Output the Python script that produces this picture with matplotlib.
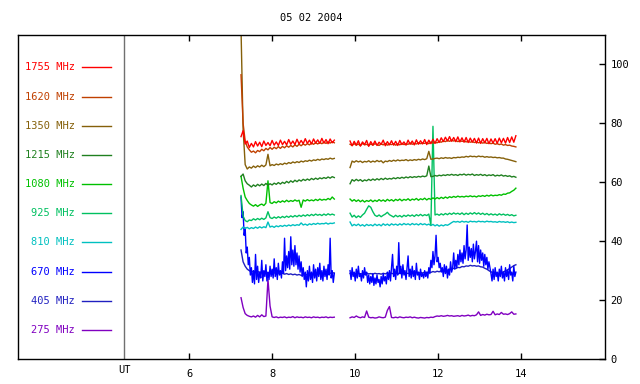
import matplotlib
matplotlib.use("Agg")
import matplotlib.pyplot as plt
import matplotlib.transforms as mtransforms
import numpy as np

# time grids (UT hours) for the two recorded segments
t_seg1 = 7.25 + 0.05 * np.arange(46)
t_seg2 = 9.88 + 0.05 * np.arange(81)
# finer grids for the noisy 670 MHz channel
t_fine1 = 7.25 + 0.025 * np.arange(91)
t_fine2 = 9.88 + 0.025 * np.arange(161)

freqs = ["1755 MHz", "1620 MHz", "1350 MHz", "1215 MHz", "1080 MHz",
         "925 MHz", "810 MHz", "670 MHz", "405 MHz", "275 MHz"]
colors = ["#ff0000", "#c04000", "#85600a", "#208020", "#00c000",
          "#00c060", "#00c0c0", "#0000ff", "#2020c0", "#8000c0"]

f1755_a = [75.5, 77.5, 73.0, 74.0, 71.8, 73.2, 72.0, 73.8, 72.3, 73.6,
           72.1, 74.0, 72.5, 73.5, 72.4, 74.2, 72.6, 73.7, 72.5, 74.3,
           72.8, 73.9, 72.7, 74.5, 72.9, 74.0, 72.8, 74.6, 73.0, 74.2,
           73.1, 74.8, 73.2, 74.3, 73.0, 74.7, 73.3, 74.4, 73.2, 74.9,
           73.3, 74.5, 73.1, 74.7, 73.4, 74.3]
f1755_b = [74.0, 72.4, 73.9, 72.6, 74.1, 72.3, 73.7, 72.8, 74.2, 72.2,
           73.8, 72.6, 74.0, 72.5, 73.6, 72.9, 74.3, 72.4, 73.8, 72.7,
           74.1, 72.6, 73.9, 72.5, 74.2, 72.8, 73.7, 72.6, 74.3, 72.9,
           74.0, 72.7, 74.4, 72.9, 74.1, 73.0, 74.5, 72.8, 74.3, 73.1,
           74.6, 73.2, 74.8, 73.5, 75.1, 73.8, 75.3, 74.0, 75.5, 73.9,
           75.2, 73.8, 75.4, 73.7, 75.1, 73.6, 75.2, 73.5, 75.0, 73.6,
           74.9, 73.3, 75.0, 73.2, 74.8, 73.4, 74.9, 73.1, 74.7, 73.3,
           74.8, 73.2, 75.0, 73.4, 74.9, 73.3, 75.2, 73.5, 75.4, 73.6,
           75.8]

f1620_a = [96.5, 80.0, 74.0, 72.0, 71.0, 70.2, 70.6, 70.0, 70.8, 70.4,
           71.2, 70.7, 71.5, 71.0, 71.8, 71.2, 71.9, 71.4, 72.1, 71.5,
           72.2, 71.7, 72.4, 71.9, 72.5, 72.0, 72.7, 72.2, 72.9, 72.4,
           73.0, 72.6, 73.1, 72.7, 73.3, 72.9, 73.4, 73.0, 73.5, 73.1,
           73.6, 73.2, 73.7, 73.3, 73.8, 73.4]
f1620_b = [72.9, 72.5, 73.1, 72.6, 73.0, 72.4, 73.2, 72.7, 72.9, 72.5,
           73.0, 72.6, 73.1, 72.8, 72.5, 73.0, 72.7, 73.2, 72.6, 72.9,
           72.8, 73.1, 72.6, 73.0, 72.7, 73.2, 72.8, 73.0, 72.9, 73.3,
           72.9, 73.2, 73.0, 73.4, 73.1, 73.3, 73.2, 73.5, 73.1, 73.6,
           73.3, 73.5, 73.4, 73.8, 73.6, 74.0, 73.8, 74.2, 73.9, 74.3,
           74.0, 74.2, 73.8, 74.1, 73.9, 74.0, 73.7, 73.9, 73.6, 73.8,
           73.5, 73.7, 73.4, 73.6, 73.3, 73.5, 73.2, 73.4, 73.1, 73.3,
           72.9, 73.1, 72.8, 73.0, 72.6, 72.8, 72.5, 72.6, 72.3, 72.2,
           72.0]

f1350_a = [112.0, 78.0, 66.0, 64.5, 65.2, 64.8, 65.5, 65.0, 65.6, 65.2,
           65.8, 65.3, 65.9, 69.5, 65.6, 66.0, 65.7, 66.2, 65.9, 66.3,
           66.0, 66.5, 66.2, 66.7, 66.4, 66.9, 66.6, 67.0, 66.7, 67.2,
           66.9, 67.3, 67.1, 67.5, 67.2, 67.6, 67.4, 67.8, 67.5, 67.9,
           67.7, 68.0, 67.8, 68.2, 67.9, 68.1]
f1350_b = [65.0, 67.2, 66.8, 67.3, 66.9, 67.2, 66.7, 67.1, 66.9, 67.3,
           66.8, 67.2, 66.9, 67.4, 67.0, 67.3, 66.6, 67.2, 67.0, 67.4,
           67.1, 67.5, 67.2, 67.6, 67.3, 67.5, 67.4, 67.7, 67.3, 67.6,
           67.4, 67.7, 67.5, 67.8, 67.6, 67.9, 67.7, 68.0, 70.5, 67.8,
           67.9, 68.1, 68.2, 68.0, 68.3, 68.1, 68.4, 68.2, 68.3, 68.1,
           68.4, 68.3, 68.5, 68.4, 68.6, 68.5, 68.8, 68.6, 68.9, 68.7,
           68.8, 68.6, 68.9, 68.7, 68.8, 68.5, 68.7, 68.5, 68.6, 68.4,
           68.5, 68.3, 68.4, 68.2, 68.2, 67.9, 67.8, 67.6, 67.4, 67.2,
           67.0]

f1215_a = [62.0, 62.8, 60.5, 59.5, 59.0, 58.4, 59.1, 58.6, 59.3, 58.8,
           59.4, 58.9, 59.6, 59.0, 59.5, 59.1, 59.7, 59.3, 59.9, 59.4,
           60.0, 59.6, 60.3, 59.8, 60.5, 60.0, 60.7, 60.2, 60.8, 60.4,
           61.0, 60.6, 61.1, 60.7, 61.3, 60.9, 61.4, 61.0, 61.5, 61.2,
           61.6, 61.3, 61.8, 61.4, 61.9, 61.6]
f1215_b = [59.5, 60.9, 60.4, 61.0, 60.5, 60.9, 60.3, 60.8, 60.5, 61.0,
           60.6, 61.1, 60.7, 61.2, 60.8, 61.3, 60.9, 61.4, 61.0, 61.3,
           61.1, 61.5, 61.2, 61.6, 61.3, 61.7, 61.4, 61.8, 61.5, 61.9,
           61.6, 61.9, 61.7, 62.0, 61.8, 62.1, 61.9, 62.2, 65.5, 61.9,
           62.0, 62.3, 62.1, 62.4, 62.2, 62.5, 62.3, 62.6, 62.4, 62.7,
           62.4, 62.6, 62.3, 62.7, 62.5, 62.8, 62.4, 62.7, 62.5, 62.8,
           62.3, 62.6, 62.4, 62.7, 62.3, 62.6, 62.2, 62.5, 62.3, 62.6,
           62.1, 62.4, 62.2, 62.5, 62.1, 62.3, 62.0, 62.2, 61.8, 62.0,
           61.7]

f1080_a = [62.0, 58.0, 55.0, 53.8, 52.8, 52.3, 51.9, 52.4, 51.8, 52.3,
           52.6, 52.1, 52.9, 60.5, 53.1, 52.8, 53.4, 53.0, 53.6, 53.2,
           53.7, 53.3, 53.9, 53.4, 53.8, 53.5, 54.0, 53.6, 53.9, 51.5,
           54.0, 53.6, 54.1, 53.7, 54.0, 53.7, 54.2, 53.8, 54.3, 53.9,
           54.2, 54.0, 54.5, 54.1, 55.0, 54.3]
f1080_b = [54.3, 53.6, 54.1, 53.5, 54.0, 53.4, 53.9, 53.3, 53.8, 53.5,
           54.0, 53.4, 53.9, 53.5, 54.1, 53.6, 54.0, 53.5, 54.2, 53.7,
           54.1, 53.6, 54.2, 53.8, 54.3, 53.7, 54.2, 53.9, 54.4, 53.8,
           54.3, 54.0, 54.5, 53.9, 54.4, 54.1, 54.6, 54.0, 54.5, 54.2,
           54.7, 54.3, 54.8, 54.4, 54.9, 54.5, 55.0, 54.6, 55.1, 54.8,
           55.2, 54.9, 55.3, 55.0, 55.2, 55.0, 55.3, 55.1, 55.4, 55.1,
           55.3, 55.0, 55.4, 55.2, 55.5, 55.2, 55.6, 55.3, 55.7, 55.4,
           55.6, 55.5, 55.8, 55.6, 56.0, 55.9, 56.3, 56.4, 56.9, 57.3,
           58.0]

f925_a = [55.5, 48.5, 47.0, 46.6, 47.2, 47.0, 47.6, 47.2, 47.7, 47.3,
          47.8, 47.4, 47.9, 50.0, 48.0, 47.7, 48.2, 47.8, 48.3, 47.9,
          48.4, 48.0, 48.5, 48.1, 48.6, 48.2, 48.7, 48.3, 48.8, 48.4,
          48.9, 48.5, 49.0, 48.6, 49.1, 48.7, 49.2, 48.8, 49.1, 48.7,
          49.2, 48.8, 49.3, 48.9, 49.2, 48.9]
f925_b = [49.5, 48.2, 48.8, 48.0, 48.6, 48.1, 48.9, 49.5, 50.8, 52.0,
          51.5, 50.0, 48.8, 48.4, 48.9, 48.3, 48.8, 49.2, 49.8, 49.0,
          48.6, 48.2, 48.8, 48.3, 48.7, 48.2, 48.8, 48.4, 48.9, 48.5,
          48.9, 48.4, 49.0, 48.6, 49.1, 48.6, 49.0, 48.7, 49.2, 45.5,
          79.0, 48.9, 49.2, 48.8, 49.3, 48.9, 49.4, 49.0, 49.5, 49.1,
          49.6, 49.2, 49.5, 49.1, 49.6, 49.0, 49.5, 49.1, 49.6, 49.2,
          49.7, 49.2, 49.6, 49.1, 49.5, 49.0, 49.4, 48.9, 49.3, 48.9,
          49.2, 48.8, 49.3, 48.9, 49.2, 48.8, 49.1, 48.7, 49.0, 48.6,
          48.8]

f810_a = [44.0, 44.8, 44.3, 44.7, 44.2, 44.6, 44.3, 44.8, 44.4, 44.9,
          44.5, 44.9, 44.6, 46.5, 44.8, 45.1, 44.7, 45.2, 44.9, 45.3,
          45.0, 45.4, 45.1, 45.5, 45.2, 45.6, 45.3, 45.6, 45.4, 46.2,
          45.5, 45.8, 45.4, 45.9, 45.6, 46.0, 45.7, 46.1, 45.8, 46.0,
          45.9, 46.2, 45.8, 46.1, 46.0, 46.2]
f810_b = [46.5, 45.2, 45.7, 45.3, 45.8, 45.2, 45.6, 45.1, 45.7, 45.3,
          45.6, 45.2, 45.8, 45.3, 45.7, 45.2, 45.9, 45.4, 45.8, 45.3,
          45.9, 45.5, 45.8, 45.4, 45.9, 45.5, 46.0, 45.6, 45.9, 45.5,
          46.0, 45.6, 45.9, 45.5, 46.0, 45.6, 45.9, 45.5, 45.8, 45.3,
          45.7, 45.2, 45.6, 45.1, 45.5, 45.2, 45.6, 45.4, 45.8, 46.3,
          46.7, 46.5, 46.7, 46.4, 46.8, 46.5, 46.7, 46.4, 46.8, 46.6,
          46.7, 46.5, 46.8, 46.6, 46.7, 46.5, 46.8, 46.6, 46.7, 46.5,
          46.6, 46.4, 46.7, 46.5, 46.6, 46.4, 46.6, 46.3, 46.5, 46.3,
          46.4]

f670_a = [55.0, 48.0, 50.0, 42.0, 44.5, 36.0, 38.0, 32.0, 34.5, 28.5,
          31.0, 26.0, 30.0, 25.5, 35.5, 27.0, 31.5, 26.0, 29.5, 27.5,
          33.5, 26.5, 30.0, 28.0, 32.0, 26.5, 29.5, 27.0, 31.5, 28.0,
          30.5, 27.5, 34.0, 28.0, 31.0, 27.0, 32.5, 28.5, 30.0, 27.5,
          33.0, 29.0, 41.0, 30.0, 35.0, 31.0, 36.5, 30.5, 41.5, 32.0,
          37.0, 31.5, 38.5, 32.0, 36.0, 30.5, 35.0, 29.5, 33.0, 28.0,
          31.0, 27.0, 29.5, 24.5, 30.0, 26.5, 31.5, 27.0, 29.5, 26.0,
          32.0, 27.5, 30.5, 26.5, 31.0, 28.0, 32.5, 27.0, 30.0, 26.5,
          31.5, 28.0, 30.5, 27.0, 32.0, 28.5, 41.0, 27.5, 30.0, 26.0,
          29.0]
f670_b = [30.0, 27.0, 31.0, 28.0, 29.5, 26.5, 30.5, 27.5, 31.5, 28.0,
          29.0, 26.5, 30.0, 27.5, 31.0, 28.5, 29.5, 26.0, 28.5, 25.5,
          28.0, 26.0, 29.0, 25.0, 27.5, 25.5, 28.5, 26.0, 27.0, 24.5,
          28.0, 25.5, 29.0, 26.5, 28.0, 25.5, 29.5, 27.0, 30.0, 26.5,
          31.0, 35.5, 28.0, 30.5, 27.0, 31.5, 28.5, 39.5, 29.0, 31.5,
          27.5, 32.0, 28.5, 30.0, 27.0, 31.0, 35.0, 28.0, 30.5, 27.5,
          31.5, 28.0, 30.0, 27.0, 32.5, 28.5, 29.5, 27.0, 30.5, 28.0,
          29.0, 27.5, 30.0, 28.0, 29.5, 27.5, 31.0, 29.0, 33.5, 31.0,
          36.5, 32.0, 35.0, 42.0, 33.0, 34.5, 31.0, 32.5, 29.5, 31.0,
          28.0, 32.0, 29.0, 31.5, 27.5, 30.5, 28.5, 33.0, 29.5, 31.0,
          36.0, 30.5, 33.5, 31.0, 35.5, 32.0, 37.0, 33.0, 36.0, 32.5,
          38.5, 34.0, 37.0, 45.5, 33.5, 38.0, 34.5, 37.5, 33.0, 39.0,
          34.0, 36.5, 40.0, 33.0, 38.5, 32.5, 37.0, 33.5, 36.0, 31.5,
          35.5, 32.0, 34.5, 30.5, 33.0, 31.0, 29.0, 26.5, 30.5, 27.0,
          31.0, 28.0, 29.5, 26.5, 30.5, 28.0, 31.5, 27.5, 29.5, 26.5,
          31.0, 28.0, 30.0, 27.0, 32.0, 28.5, 29.5, 26.5, 31.5, 28.0,
          29.5]

f405_a = [37.0, 33.0, 31.5, 30.5, 30.0, 29.6, 29.8, 29.5, 29.7, 29.4,
          29.6, 29.3, 29.5, 29.2, 29.4, 29.1, 29.3, 29.0, 29.2, 28.9,
          29.1, 28.8, 29.0, 28.7, 28.9, 28.6, 28.8, 28.5, 28.7, 28.4,
          28.6, 28.5, 28.7, 28.6, 28.8, 28.7, 28.9, 28.8, 29.0, 28.9,
          29.1, 29.0, 29.2, 29.1, 29.3, 29.2]
f405_b = [29.0, 28.8, 29.1, 28.9, 29.2, 28.8, 29.0, 28.7, 29.1, 28.9,
          29.0, 28.8, 29.1, 28.9, 29.0, 28.8, 29.1, 28.9, 29.2, 29.0,
          29.1, 28.9, 29.2, 29.0, 29.1, 28.9, 29.2, 29.0, 29.1, 28.9,
          29.2, 29.0, 29.3, 29.1, 29.4, 29.2, 29.5, 29.3, 29.6, 29.4,
          29.7, 29.5, 29.8, 29.6, 30.0, 29.8, 30.2, 30.1, 30.5, 30.4,
          30.8, 30.7, 31.1, 31.0, 31.4, 31.3, 31.6, 31.5, 31.8, 31.6,
          31.7, 31.5, 31.6, 31.3, 31.2, 30.8, 30.5, 30.0, 29.6, 29.3,
          29.1, 29.0, 29.2, 29.3, 29.6, 29.9, 30.3, 30.7, 31.2, 31.7,
          32.0]

f275_a = [20.8, 17.5, 15.4, 14.8, 14.5, 14.3, 14.6, 14.2, 14.8, 14.3,
          15.0, 14.4, 14.6, 27.0, 18.0, 14.3, 14.1, 14.3, 14.0, 14.2,
          14.1, 14.3, 14.0, 14.2, 14.1, 14.4, 14.0, 14.3, 14.1, 14.2,
          14.0, 14.3, 14.1, 14.2, 14.0, 14.3, 14.1, 14.2, 14.0, 14.2,
          14.1, 14.3, 14.0, 14.2, 14.1, 14.2]
f275_b = [14.0, 14.3, 14.1, 14.6, 14.2, 14.0, 14.3, 14.1, 16.3, 14.2,
          14.0, 14.1, 13.9, 14.0, 14.3, 14.1, 14.0, 14.2, 16.5, 17.8,
          14.1, 14.0, 14.2, 14.0, 14.3, 14.1, 14.0, 14.2, 14.1, 14.3,
          14.0, 14.2, 14.0, 13.9, 14.1, 14.0, 13.9, 14.1, 14.0, 14.2,
          14.1, 14.4, 14.6, 14.5, 14.7, 14.5, 14.6, 14.8, 14.6, 14.7,
          14.5, 14.6, 14.7, 14.5, 14.8, 14.6, 14.7, 14.9, 14.6, 14.8,
          14.7, 15.0, 16.0, 14.8, 15.1, 14.9, 15.2, 15.0, 15.1, 16.2,
          15.0, 15.3, 15.1, 15.8, 15.2, 15.3, 15.1, 15.4, 16.0, 15.2,
          15.3]

series = [(f1755_a, f1755_b), (f1620_a, f1620_b), (f1350_a, f1350_b),
          (f1215_a, f1215_b), (f1080_a, f1080_b), (f925_a, f925_b),
          (f810_a, f810_b), (f670_a, f670_b), (f405_a, f405_b),
          (f275_a, f275_b)]

legend_y = [99.0, 89.1, 79.2, 69.3, 59.4, 49.5, 39.6, 29.7, 19.8, 9.9]

mono = "DejaVu Sans Mono"
fs = 7.5

fig = plt.figure(figsize=(6.4, 3.84), dpi=100)
ax = fig.add_axes([18 / 640, 25 / 384, 587 / 640, 324 / 384])

# draw low frequencies first so higher ones sit on top
for i in reversed(range(len(freqs))):
    seg_a, seg_b = series[i]
    if len(seg_a) == len(t_fine1):
        ta, tb = t_fine1, t_fine2
    else:
        ta, tb = t_seg1, t_seg2
    ax.plot(ta, seg_a, color=colors[i], lw=1.0)
    ax.plot(tb, seg_b, color=colors[i], lw=1.0)

# legend drawn inside the plot on the left
for i in range(len(freqs)):
    ax.text(3.24, legend_y[i], freqs[i], color=colors[i], ha="right",
            va="center", family=mono, fontsize=fs)
    ax.plot([3.41, 4.11], [legend_y[i], legend_y[i]], color=colors[i], lw=1.0)

ax.axvline(4.43, color="#707070", lw=1.0)

ax.set_xlim(1.87, 16.03)
ax.set_ylim(0, 110)

ax.set_xticks([6, 8, 10, 12, 14])
ax.set_xticklabels(["6", "8", "10", "12", "14"], family=mono, fontsize=fs)
ax.tick_params(axis="x", direction="in", top=True, length=4, width=1, pad=7)

ax.yaxis.tick_right()
ax.set_yticks([0, 20, 40, 60, 80, 100])
ax.set_yticklabels(["0", "20", "40", "60", "80", "100"], family=mono, fontsize=fs)
ax.tick_params(axis="y", direction="in", left=False, right=True, length=4,
               width=1, pad=4)

trans = mtransforms.blended_transform_factory(ax.transData, ax.transAxes)
ax.text(4.43, -0.035, "UT", transform=trans, ha="center", va="center",
        family=mono, fontsize=fs)

for sp in ax.spines.values():
    sp.set_linewidth(1.0)

fig.text(311 / 640, 1 - 18 / 384, "05 02 2004", ha="center", va="center",
         family=mono, fontsize=fs)

fig.savefig("out.png", dpi=100)
